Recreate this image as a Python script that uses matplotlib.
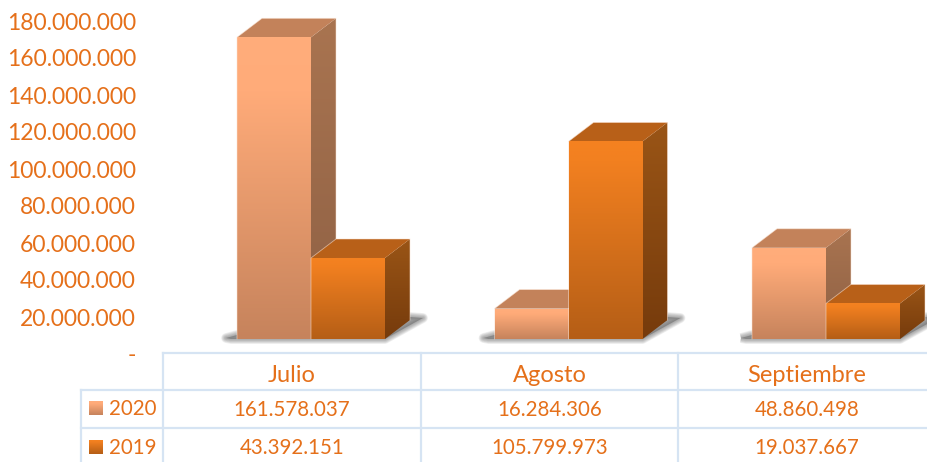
import numpy as np
import matplotlib
matplotlib.use("Agg")
import matplotlib.pyplot as plt
from matplotlib.colors import LinearSegmentedColormap
from matplotlib.patches import Polygon

# -----------------------------
# DATA
# -----------------------------
months = ["Julio", "Agosto", "Septiembre"]
values_2020 = [161578037, 16284306, 48860498]
values_2019 = [43392151, 105799973, 19037667]
labels_2020 = ["161.578.037", "16.284.306", "48.860.498"]
labels_2019 = ["43.392.151", "105.799.973", "19.037.667"]
tick_values = [0, 20000000, 40000000, 60000000, 80000000, 100000000,
               120000000, 140000000, 160000000, 180000000]
tick_labels = ["-", "20.000.000", "40.000.000", "60.000.000", "80.000.000",
               "100.000.000", "120.000.000", "140.000.000", "160.000.000",
               "180.000.000"]

W, H = 927, 462
TEXT = "#E5701A"
GRID = "#D6E4F3"
FONT = "Lato"

# pixels per category and pixels per value on the front plane of the bars
X0, CAT_PX = 311.0, 257.5
Y0, VAL_PX = 339.0, 1.867e-6
px_x = 1 / CAT_PX
px_y = 1 / VAL_PX
BAR_W = 74 * px_x
DEPTH_X = 25 * px_x
DEPTH_Y = 19 * px_y

style_2020 = {
    "front": [(0, "#FFAD7B"), (0.18, "#FFAB79"), (1, "#C6835C")],
    "side": [(0, "#A97450"), (1, "#8E6044")],
    "top": "#C3825A",
}
style_2019 = {
    "front": [(0, "#F58220"), (0.1, "#F28020"), (1, "#B55E16")],
    "side": [(0, "#9A5516"), (1, "#763B0C")],
    "top": "#B86018",
}


def gradient_face(ax, pts, colors, zorder):
    cmap = LinearSegmentedColormap.from_list("face", colors)
    pts = np.array(pts)
    grad = np.linspace(0, 1, 256).reshape(-1, 1)
    extent = [pts[:, 0].min(), pts[:, 0].max(), pts[:, 1].min(), pts[:, 1].max()]
    im = ax.imshow(grad, cmap=cmap, extent=extent, origin="upper", aspect="auto",
                   interpolation="bilinear", zorder=zorder)
    clip = Polygon(pts, closed=True, transform=ax.transData, fill=False, edgecolor="none")
    ax.add_patch(clip)
    im.set_clip_path(clip)


def draw_shadow(ax, x0, x1):
    pts = [(x0 - 11 * px_x, 1 * px_y), (x0, 4 * px_y), (x1 + 25 * px_x, 22 * px_y),
           (x1 + 38 * px_x, 21 * px_y), (x1, 0), (x0 - 6 * px_x, 0)]
    for lw in [7, 6, 5, 4, 3, 2, 1]:
        ax.add_patch(Polygon(pts, closed=True, facecolor="none", edgecolor="#666666",
                             alpha=0.1, linewidth=lw, joinstyle="round", zorder=1))
    ax.add_patch(Polygon(pts, closed=True, facecolor="#666666", edgecolor="none", alpha=0.55, zorder=1))


def draw_bar(ax, x0, value, style, zorder):
    x1 = x0 + BAR_W
    front = [(x0, 0), (x1, 0), (x1, value), (x0, value)]
    side = [(x1, 0), (x1 + DEPTH_X, DEPTH_Y), (x1 + DEPTH_X, value + DEPTH_Y), (x1, value)]
    top = [(x0, value), (x1, value), (x1 + DEPTH_X, value + DEPTH_Y), (x0 + DEPTH_X, value + DEPTH_Y)]
    gradient_face(ax, side, style["side"], zorder)
    ax.add_patch(Polygon(top, closed=True, facecolor=style["top"], edgecolor="none", zorder=zorder))
    gradient_face(ax, front, style["front"], zorder + 0.1)
    outline = [(x0, 0), (x0, value), (x0 + DEPTH_X, value + DEPTH_Y),
               (x1 + DEPTH_X, value + DEPTH_Y), (x1 + DEPTH_X, DEPTH_Y)]
    ax.plot(*zip(*outline), color="#FBE3D3", lw=0.6, alpha=0.6, zorder=zorder + 0.2)


fig = plt.figure(figsize=(W / 100, H / 100), dpi=100)

# -----------------------------
# BARS
# -----------------------------
ax = fig.add_axes([0, 0, 1, 1])
ax.axis("off")
for i in range(len(months)):
    draw_shadow(ax, i - BAR_W, i + BAR_W)
for i in range(len(months)):
    draw_bar(ax, i - BAR_W, values_2020[i], style_2020, 2 + i)
    draw_bar(ax, i, values_2019[i], style_2019, 2.5 + i)
ax.set_xlim(-X0 / CAT_PX, (W - X0) / CAT_PX)
ax.set_ylim((Y0 - H) * px_y, Y0 * px_y)

# -----------------------------
# VALUE AXIS
# -----------------------------
tick_scale = (354 - 21) / 180000000
ax_ticks = fig.add_axes([136 / W, 0, 1 / W, 1])
ax_ticks.set_ylim((354 - H) / tick_scale, 354 / tick_scale)
ax_ticks.set_xticks([])
ax_ticks.set_yticks(tick_values)
ax_ticks.set_yticklabels(tick_labels, fontfamily=FONT, fontsize=16.5, color=TEXT)
ax_ticks.tick_params(axis="y", length=0, pad=0)
ax_ticks.patch.set_visible(False)
for spine in ax_ticks.spines.values():
    spine.set_visible(False)

# -----------------------------
# DATA TABLE
# -----------------------------
ax_tab = fig.add_axes([0, 0, 1, 1])
ax_tab.axis("off")
ax_tab.patch.set_visible(False)
ax_tab.set_xlim(0, W)
ax_tab.set_ylim(H, 0)

col_edges = [163.5, 421, 678]
row_edges = [353, 390, 428]
for x in col_edges:
    ax_tab.plot([x, x], [353, H], color=GRID, lw=1.6)
ax_tab.plot([81.5, 81.5], [390, H], color=GRID, lw=1.6)
ax_tab.plot([163.5, W], [353, 353], color=GRID, lw=1.6)
for y in row_edges[1:]:
    ax_tab.plot([81.5, W], [y, y], color=GRID, lw=1.6)

centers = [292, 549.5, 807]
for i, c in enumerate(centers):
    ax_tab.text(c, 376, months[i], ha="center", va="center", color=TEXT, family=FONT, fontsize=17)
    ax_tab.text(c, 410, labels_2020[i], ha="center", va="center", color=TEXT, family=FONT, fontsize=14.8)
    ax_tab.text(c, 448, labels_2019[i], ha="center", va="center", color=TEXT, family=FONT, fontsize=14.8)

ax_tab.text(109, 409, "2020", ha="left", va="center", color=TEXT, family=FONT, fontsize=14.8)
ax_tab.text(109, 448, "2019", ha="left", va="center", color=TEXT, family=FONT, fontsize=14.8)

for y, colors in [(401, style_2020["front"]), (440, style_2019["front"])]:
    cmap = LinearSegmentedColormap.from_list("swatch", colors)
    ax_tab.imshow(np.linspace(0, 1, 64).reshape(-1, 1), cmap=cmap, aspect="auto",
                  extent=[89, 103, y + 14, y], origin="upper", interpolation="bilinear")
ax_tab.set_xlim(0, W)
ax_tab.set_ylim(H, 0)

fig.savefig("out.png", dpi=100)
